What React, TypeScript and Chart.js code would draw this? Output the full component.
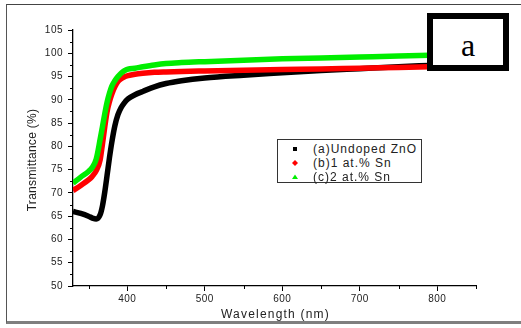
import React, { useEffect, useRef } from 'react';
import { Chart, registerables } from 'chart.js';

Chart.register(...registerables);

// ---- data ----
const wavelengths = [330, 340, 350, 355, 360, 365, 368, 371, 374, 377, 380, 384, 388, 392, 396, 401, 410, 420, 435, 450, 470, 500, 550, 600, 650, 700, 750, 790];
const undopedZnO = [66.0, 65.6, 65.0, 64.6, 64.4, 65.3, 67.2, 70.2, 73.8, 77.5, 80.8, 84.4, 86.8, 88.3, 89.3, 90.2, 91.1, 91.8, 92.8, 93.5, 94.1, 94.7, 95.3, 95.8, 96.3, 96.7, 97.1, 97.4];
const sn1 = [70.5, 71.6, 72.8, 73.6, 74.8, 77.1, 80.5, 84.2, 87.5, 89.6, 91.2, 92.8, 93.9, 94.5, 94.9, 95.2, 95.5, 95.7, 95.9, 96.0, 96.1, 96.2, 96.35, 96.5, 96.6, 96.8, 96.95, 97.1];
const sn2 = [72.1, 73.4, 74.6, 75.5, 77.3, 81.5, 84.2, 87.0, 89.5, 91.4, 92.9, 94.1, 95.0, 95.7, 96.2, 96.6, 96.8, 97.1, 97.5, 97.8, 98.0, 98.2, 98.5, 98.8, 99.0, 99.2, 99.4, 99.6];

const xTickValues = [400, 500, 600, 700, 800];
const xMinorValues = [350, 450, 550, 650, 750, 850];
const yMinorValues = [52.5, 57.5, 62.5, 67.5, 72.5, 77.5, 82.5, 87.5, 92.5, 97.5, 102.5];
const legendLabels = ['(a)Undoped ZnO', '(b)1 at.% Sn', '(c)2 at.% Sn'];
const seriesColors = ['#000000', '#ff0000', '#00ee00'];
const panelLabel = 'a';
const xTitle = 'Wavelength (nm)';
const yTitle = 'Transmittance (%)';

const FONT = "Arial, 'Liberation Sans', sans-serif";

const decorPlugin = {
  id: 'decor',
  beforeDraw(chart: any) {
    (chart.ctx as any).letterSpacing = '0.5px';
  },
  afterDraw(chart: any) {
    const ctx = chart.ctx;
    const xs = chart.scales.x;
    const ys = chart.scales.y;
    const area = chart.chartArea;
    ctx.save();
    ctx.strokeStyle = '#000';
    ctx.lineWidth = 1;
    ctx.beginPath();
    yMinorValues.forEach((v) => {
      const p = Math.round(ys.getPixelForValue(v)) + 0.5;
      ctx.moveTo(area.left - 3, p);
      ctx.lineTo(area.left, p);
    });
    xMinorValues.forEach((v) => {
      const p = Math.round(xs.getPixelForValue(v)) + 0.5;
      ctx.moveTo(p, area.bottom);
      ctx.lineTo(p, area.bottom + 3);
    });
    ctx.stroke();

    ctx.fillStyle = '#222';
    ctx.font = `12px ${FONT}`;
    ctx.textAlign = 'center';
    ctx.textBaseline = 'middle';
    (ctx as any).letterSpacing = '1.2px';
    ctx.fillText(xTitle, (area.left + area.right) / 2 + 1, 315);
    (ctx as any).letterSpacing = '0.3px';
    ctx.translate(33, (area.top + area.bottom) / 2 + 2);
    ctx.rotate(-Math.PI / 2);
    ctx.fillText(yTitle, 0, 0);
    ctx.restore();
  },
};

export default function App() {
  const canvasRef = useRef<HTMLCanvasElement>(null);

  useEffect(() => {
    const canvas = canvasRef.current;
    if (!canvas) return;
    const series = [undopedZnO, sn1, sn2];
    const chart = new Chart(canvas, {
      type: 'line',
      data: {
        datasets: series.map((vals, i) => ({
          label: legendLabels[i],
          data: wavelengths.map((w, j) => ({ x: w, y: vals[j] })),
          borderColor: seriesColors[i],
          backgroundColor: seriesColors[i],
          borderWidth: 5.5,
          pointRadius: 0,
          cubicInterpolationMode: 'monotone' as const,
          order: 2 - i,
          fill: false,
        })),
      },
      options: {
        animation: false,
        responsive: false,
        devicePixelRatio: 1,
        layout: { padding: { top: 30, right: 45, left: 0, bottom: 0 } },
        plugins: { legend: { display: false }, tooltip: { enabled: false } },
        scales: {
          x: {
            type: 'linear',
            min: 330,
            max: 850,
            afterBuildTicks: (s: any) => {
              s.ticks = xTickValues.map((value) => ({ value }));
            },
            afterFit: (s: any) => {
              s.height = 42;
            },
            grid: { drawOnChartArea: false, tickLength: 5, color: '#000', lineWidth: 1 },
            border: { color: '#000', width: 1.3 },
            ticks: { font: { family: FONT, size: 10 }, color: '#222', padding: 2, maxRotation: 0, autoSkip: false },
          },
          y: {
            type: 'linear',
            min: 50,
            max: 105,
            ticks: { stepSize: 5, font: { family: FONT, size: 10 }, color: '#222', padding: 5 },
            afterFit: (s: any) => {
              s.width = 73;
            },
            grid: { drawOnChartArea: false, tickLength: 5, color: '#000', lineWidth: 1 },
            border: { color: '#000', width: 1.3 },
          },
        },
      },
      plugins: [decorPlugin],
    } as any);
    return () => chart.destroy();
  }, []);

  const markerStyle = (i: number): React.ReactNode => {
    if (i === 0) return <rect x={3} y={3} width={4} height={4} fill={seriesColors[0]} />;
    if (i === 1) return <polygon points="5,2 8,5 5,8 2,5" fill={seriesColors[1]} />;
    return <polygon points="5,2.5 8,7 2,7" fill={seriesColors[2]} />;
  };

  return (
    <div style={{ position: 'fixed', left: 0, top: 0, width: 521, height: 328, background: '#fff', overflow: 'hidden' }}>
      <canvas ref={canvasRef} width={521} height={328} style={{ position: 'absolute', left: 0, top: 0, width: 521, height: 328 }} />
      {/* outer frame */}
      <div
        style={{
          position: 'absolute',
          left: 6,
          top: 4,
          width: 540,
          height: 324 - 4,
          boxSizing: 'border-box',
          borderLeft: '1.5px solid #555',
          borderTop: '1px solid #444',
          borderBottom: '3px solid #7f7f7f',
          pointerEvents: 'none',
        }}
      />
      {/* panel label box */}
      <div
        style={{
          position: 'absolute',
          left: 427,
          top: 13,
          width: 82,
          height: 58,
          boxSizing: 'border-box',
          border: '6px solid #000',
          background: '#fff',
          fontFamily: "'Liberation Serif', 'Times New Roman', serif",
          fontSize: 32,
          lineHeight: '46px',
          textAlign: 'center',
          color: '#000',
          paddingTop: 3,
          overflow: 'hidden',
        }}
      >
        {panelLabel}
      </div>
      {/* legend */}
      <div
        style={{
          position: 'absolute',
          left: 277,
          top: 139,
          width: 145,
          height: 44,
          boxSizing: 'border-box',
          border: '1px solid #333',
          background: '#fff',
        }}
      >
        {legendLabels.map((lab, i) => (
          <div key={lab} style={{ position: 'absolute', left: 0, top: 2 + i * 14, height: 14, width: 143 }}>
            <svg width={10} height={10} style={{ position: 'absolute', left: 12, top: 2 }}>
              {markerStyle(i)}
            </svg>
            <span
              style={{
                position: 'absolute',
                left: 35,
                top: 0,
                fontFamily: FONT,
                fontSize: 12,
                letterSpacing: '1px',
                lineHeight: '14px',
                color: '#222',
                whiteSpace: 'nowrap',
              }}
            >
              {lab}
            </span>
          </div>
        ))}
      </div>
    </div>
  );
}
